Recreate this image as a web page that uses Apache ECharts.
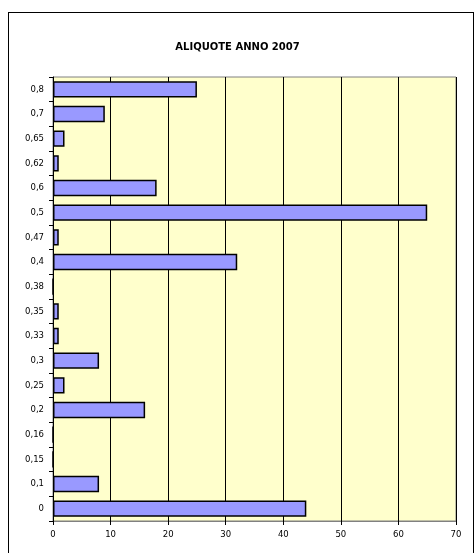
<!DOCTYPE html>
<html lang="it">
<head>
    <meta charset="UTF-8">
    <title>Aliquote anno 2007</title>
    <style>
        html,body{padding:0;margin:0;background:#fff;}
        .frame{position:absolute;left:8px;top:12px;width:466px;height:560px;border:1px solid #000;box-sizing:border-box;}
        #chart{position:absolute;left:0;top:0;width:475px;height:553px;}
    </style>
    <script src="https://cdn.jsdelivr.net/npm/echarts@6/dist/echarts.min.js"></script>
</head>
<body>
<div class="frame"></div>
<div id="chart"></div>
<script>
    var aliquote = ['0','0,1','0,15','0,16','0,2','0,25','0,3','0,33','0,35','0,38','0,4','0,47','0,5','0,6','0,62','0,65','0,7','0,8'];
    var conteggi = [44, 8, 0, 0, 16, 2, 8, 1, 1, 0, 32, 1, 65, 18, 1, 2, 9, 25];
    var ticksX = [0, 10, 20, 30, 40, 50, 60, 70];

    var myChart = echarts.init(document.getElementById('chart'));
    var font = 'Verdana, "DejaVu Sans", sans-serif';

    myChart.setOption({
        animation: false,
        title: {
            text: 'ALIQUOTE ANNO 2007',
            left: 'center', top: 37,
            textStyle: {fontFamily: font, fontSize: 10, fontWeight: 'bold', color: '#000'}
        },
        grid: {
            left: 53, right: 19, top: 77, bottom: 32,
            show: true, backgroundColor: '#FFFFCC', borderColor: '#808080', borderWidth: 1
        },
        xAxis: {
            type: 'value', min: ticksX[0], max: ticksX[ticksX.length - 1], interval: 10,
            axisLine: {show: true, lineStyle: {color: '#808080'}},
            axisTick: {show: true, length: 4, lineStyle: {color: '#000'}},
            axisLabel: {fontFamily: font, fontSize: 8.5, color: '#000', margin: 9},
            splitLine: {show: true, lineStyle: {color: '#000', width: 1}}
        },
        yAxis: {
            type: 'category', data: aliquote,
            axisLine: {show: true, lineStyle: {color: '#000'}},
            axisTick: {show: true, length: 4, inside: false, lineStyle: {color: '#000'}},
            axisLabel: {fontFamily: font, fontSize: 8.5, color: '#000', margin: 9},
            splitLine: {show: false}
        },
        series: [{
            type: 'bar', data: conteggi, barCategoryGap: '34%',
            itemStyle: {color: '#9999FF', borderColor: '#000', borderWidth: 1.5}
        }]
    });
</script>
</body>
</html>
